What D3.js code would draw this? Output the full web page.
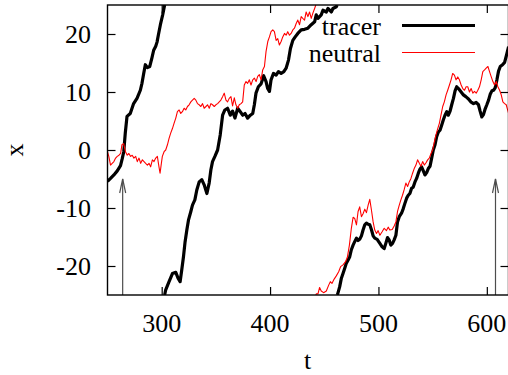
<!DOCTYPE html>
<html>
<head>
<meta charset="utf-8">
<script src="https://cdn.jsdelivr.net/npm/d3@7"></script>
<style>
  html, body { margin: 0; padding: 0; background: #fff; }
  svg { display: block; }
  text { font-family: "Liberation Serif", "Times New Roman", serif; fill: #000; }
</style>
</head>
<body>
<svg id="chart" width="508" height="375"></svg>
<script>
// Positions on a periodic domain of width 50 (x in [-25, 25)), stored unwrapped.
const tracerT = [
  250, 252.8, 255.9, 259, 262, 263.6, 265, 266.4, 268, 271, 274.1, 277.2, 280.3, 281.8, 283.4, 284.9,
  286.8, 289, 291, 292.6, 294.5, 295.7, 297.2, 298.8, 300.9, 303.7, 306.8, 309.9, 313, 315.1, 317,
  318.5, 320.1, 321.6, 323.2, 324.7, 326.9, 328.4, 330.6, 332.4, 334.6, 337, 339.2, 341.7, 343.8,
  345.4, 346.9, 349.1, 351.6, 354, 356.2, 358.3, 360.8, 363.3, 365.4, 367.6, 370.1, 372.5, 374.7,
  376.9, 379.3, 381.8, 384, 385.5, 387, 389.2, 391.7, 394.1, 396.3, 397.8, 399.4, 400.9, 403.1,
  405.6, 407.7, 410.2, 412.7, 414.8, 417, 418.8, 421, 423.2, 425.6, 428.7, 431.8, 434.9, 438,
  441.1, 442.6, 444.2, 447.2, 448.8, 451.9, 453.4, 456.5, 458, 461.1, 462.4, 464.2, 465.8, 467.3,
  468.9, 470.4, 471.9, 473.5, 475, 476.6, 478.1, 479.7, 481.2, 482.7, 484.3, 485.8, 487.4, 488.9,
  490.5, 492, 493.5, 495.1, 496.6, 498.8, 501.3, 503.4, 505.3, 506.8, 508.4, 509.9, 511.4, 513,
  514.5, 516.1, 517.6, 519.2, 521.3, 522.9, 524.4, 526, 527.5, 529, 530.6, 532.1, 533.7, 535.2,
  536.8, 538.3, 539.8, 541.4, 542.9, 544.5, 546, 547.6, 549.1, 550.6, 552.2, 553.7, 555.3, 556.8,
  558.4, 559.9, 561.4, 563, 564.5, 566.1, 567.6, 569.2, 570.7, 572.2, 573.8, 576.3, 578.4, 580.6,
  583.1, 585.2, 587.7, 590.1, 592.3, 593.8, 595.4, 596.9, 598.5, 600, 601.6, 603.1, 604.7, 606.2,
  607.7, 609.3, 610.8, 612.4, 614.5, 616.4, 618.2, 620.1
];
const tracerX = [
  -5.4, -4.9, -4.3, -3.6, -2.7, -1.5, -0.3, 2.9, 5.8, 6.3, 8.0, 8.9, 10.3, 11.5, 13.2, 14.7,
  14.2, 14.4, 15.9, 17.2, 17.9, 18.6, 20.1, 21.6, 23.3, 25.9, 27.3, 28.7, 28.9, 27.9, 27.3,
  29.3, 31.6, 34.2, 36.2, 37.9, 39.4, 40.5, 41.4, 43.1, 44.5, 44.9, 44.0, 42.5, 44.3,
  46.6, 48.0, 48.9, 50, 52.6, 56.0, 56.9, 57.2, 56.0, 56.7, 55.5, 57.2, 56.6, 56.0,
  56.3, 55.5, 56.0, 56.3, 57.8, 59.8, 60.9, 61.4, 62.8, 61.8, 60.6, 60.1, 62.1, 63.2,
  62.9, 63.5, 63.2, 63.5, 64.1, 65.5, 67.5, 68.9, 69.5, 70.1, 70.7, 70.8, 71.0, 71.6,
  72.1, 73.3, 72.7, 73.3, 74.1, 73.8, 74.4, 73.8, 74.4, 74.7, 75.2, 76.4, 77.9, 78.7,
  79.6, 80.5, 81.0, 81.6, 82.8, 83.6, 84.2, 84.8, 84.4, 84.6, 85.2, 86.2, 87.1, 87.4,
  87.2, 87.1, 86.3, 85.2, 84.8, 84.6, 83.9, 83.3, 83.0, 83.9, 84.9, 84.5, 83.6, 83.9,
  84.5, 85.3, 87.6, 88.5, 89.1, 89.9, 90.8, 91.7, 92.2, 92.5, 93.4, 93.6, 94.5, 95.1,
  96.0, 96.7, 97.1, 96.4, 95.7, 96.1, 96.8, 97.2, 98.6, 100, 100.9, 102.3, 103.1, 103.4,
  104.3, 105.2, 106.0, 106.6, 106.0, 106.7, 107.8, 108.9, 110.2, 110.9, 110.6, 110.0, 109.5, 109.2,
  108.8, 108.3, 108.0, 108.2, 107.8, 106.7, 105.7, 106.1, 107.1, 107.8, 108.6, 109.6, 110.2, 110.3,
  110.7, 112.1, 113.6, 114.4, 114.7, 115.1, 116.4, 117.8
];
const neutralT = [
  250, 251.2, 252.8, 254.3, 255.9, 257.5, 259, 260.6, 262.1, 263.3, 264.9, 266.6, 268.2, 269.7,
  271.3, 272.8, 274.4, 276, 277.5, 279.1, 280.6, 282.2, 283.7, 285.2, 286.8, 288.3, 289.8, 291.4,
  292.9, 294.5, 296, 297.5, 298.5, 299.7, 300.6, 302.2, 303.7, 305.3, 306.8, 308.3, 309.9, 311.4,
  313, 314.5, 316.1, 317.6, 319.1, 320.7, 322.2, 323.8, 325.3, 326.9, 328.4, 330, 331.5, 333,
  334.6, 336.1, 337.7, 339.2, 340.8, 342.3, 343.9, 345.4, 346.9, 348.5, 350, 351.6, 353.1, 354.6,
  356.2, 357.7, 359.3, 360.8, 362.3, 363.9, 365.4, 367, 368.5, 370.1, 371.6, 373.2, 374.7, 376.2,
  377.8, 379.3, 380.9, 382.4, 384, 385.5, 387.1, 388.6, 390.1, 391.7, 393.2, 394.8, 396.3, 397.9,
  399.4, 400.9, 402.5, 404, 405.6, 407.1, 408.6, 410.2, 411.7, 413.3, 414.8, 416.3, 417.9, 419.4,
  421, 422.5, 424.1, 425.6, 427.2, 428.7, 430.2, 431.8, 433.3, 434.9, 436.4, 438, 439.5, 441.1,
  442.6, 444.2, 445.7, 447.2, 449.4, 451.9, 454.1, 455.6, 457.1, 459, 461.1, 463.3, 465.1, 467.3,
  469.5, 471.3, 473.2, 475, 476.6, 478.1, 479.7, 481.2, 482.7, 484.3, 485.8, 487.4, 488.9, 490.5,
  492, 493.5, 495.1, 496.6, 498.2, 499.7, 501.3, 503.4, 505.3, 507.4, 509, 510.5, 512.7, 514.5,
  516.1, 517.6, 519.2, 520.7, 522.2, 523.8, 525.3, 526.9, 528.4, 530, 531.5, 533, 534.6, 536.1,
  537.7, 539.2, 540.8, 542.3, 543.9, 545.4, 546.9, 548.5, 550, 551.6, 553.1, 554.7, 556.2, 557.7,
  559.3, 560.8, 562.4, 563.9, 565.5, 567, 568.5, 570.1, 571.6, 573.2, 574.7, 576.3, 577.8, 579.4,
  580.9, 582.4, 584, 585.5, 587.1, 588.6, 590.2, 591.7, 593.2, 594.8, 596.3, 597.9, 599.4, 601,
  602.5, 604.1, 605.6, 607.1, 608.7, 610.2, 611.8, 613.3, 614.8, 616.4, 617.9, 620.1
];
const neutralX = [
  -0.3, -1.1, -2.6, -2.3, -2.0, -1.4, -1.1, -0.9, -0.6, 0.9, 1.1, -0.3, -0.9, -0.6,
  -1.1, -0.9, -1.4, -1.1, -2.0, -1.4, -2.3, -1.7, -2.0, -2.3, -2.6, -2.3, -2.9, -1.7,
  -2.0, -1.4, -1.1, -2.9, -4.0, -2.3, -1.1, -0.3, 0, 0.9, 2.0, 2.9, 3.7, 4.6,
  5.5, 6.6, 6.9, 6.3, 6.6, 7.2, 6.9, 7.5, 7.8, 8.3, 8.6, 8.9, 8.6, 8.0,
  7.8, 7.5, 8.0, 7.2, 7.5, 7.8, 7.2, 8.0, 7.8, 7.5, 7.8, 8.0, 8.3, 8.6,
  9.2, 9.8, 8.6, 8.3, 8.9, 9.2, 7.6, 9.0, 7.8, 7.2, 7.8, 8.0, 8.3, 11.2,
  11.8, 11.5, 12.1, 11.2, 12.1, 12.4, 11.8, 12.7, 13.0, 12.1, 13.8, 14.4, 17.0, 18.7,
  19.5, 20.4, 20.7, 20.4, 18.9, 19.2, 18.1, 18.7, 19.5, 20.1, 19.8, 20.4, 19.8, 20.1,
  20.7, 21.0, 21.8, 22.4, 21.6, 23.0, 22.7, 22.4, 23.8, 23.0, 23.8, 22.7, 23.6, 24.4,
  25.2, 25.2, 26.3, 25.7, 25.4, 25.7, 26.7, 27.3, 27.0, 27.7, 28.3, 29.0, 29.9, 30.2,
  30.7, 31.5, 33.6, 36.5, 38.4, 38.2, 37.1, 39.4, 40.2, 38.5, 39.0, 39.8, 39.2, 40.5,
  41.5, 39.7, 37.6, 36.2, 35.6, 36.1, 35.3, 35.9, 36.5, 36.1, 36.7, 36.2, 36.3, 36.9,
  37.6, 39.4, 40.5, 41.4, 42.2, 43.2, 44.3, 43.7, 44.5, 45.1, 46.0, 46.8, 47.4, 48.3,
  47.7, 47.2, 48.0, 47.4, 47.8, 48.3, 48.6, 49.4, 50, 51.4, 52.6, 53.7, 54.6, 56.0,
  57.5, 58.3, 59.5, 60.3, 61.2, 62.1, 63.2, 62.9, 62.1, 62.6, 62.1, 61.2, 60.6, 60.3,
  60.9, 60.9, 60.0, 60.6, 59.8, 60.1, 59.8, 60.3, 60.9, 62.1, 63.5, 63.8, 64.1, 64.4,
  63.5, 62.6, 61.8, 61.2, 61.8, 60.9, 60.3, 59.5, 58.3, 58.0, 57.8, 56.3
];

const seriesNames = ["tracer", "neutral"];
const xTicks = [300, 400, 500, 600];
const yTicks = [-20, -10, 0, 10, 20];
const arrowT = [264, 608];
const arrowTipX = -5;

const tDomain = [250, 620];
const xDomain = [-25, 25];
const period = 50;

const svg = d3.select("#chart");
const plot = { left: 107.5, right: 508.5, top: 5, bottom: 295 };

const tScale = d3.scaleLinear().domain(tDomain).range([plot.left, plot.right]);
const xScale = d3.scaleLinear().domain(xDomain).range([plot.bottom, plot.top]);

// Split an unwrapped trajectory into pieces inside [-25, 25), adding the
// boundary crossing points so each piece meets the frame edge.
function wrapSegments(ts, xs) {
  const lo = xDomain[0];
  const cell = v => Math.floor((v - lo) / period);
  const segs = [];
  let cur = [];
  for (let i = 0; i < ts.length; i++) {
    const k = cell(xs[i]);
    if (i > 0) {
      const kp = cell(xs[i - 1]);
      if (k !== kp) {
        const dir = k > kp ? 1 : -1;
        for (let c = kp; c !== k; c += dir) {
          const b = lo + period * (dir > 0 ? c + 1 : c);
          const f = (b - xs[i - 1]) / (xs[i] - xs[i - 1]);
          const tc = ts[i - 1] + f * (ts[i] - ts[i - 1]);
          cur.push([tc, b - period * c]);
          segs.push(cur);
          cur = [[tc, b - period * (c + dir)]];
        }
      }
    }
    cur.push([ts[i], xs[i] - period * k]);
  }
  segs.push(cur);
  return segs;
}

svg.append("defs").append("clipPath").attr("id", "plotclip")
  .append("rect")
  .attr("x", plot.left).attr("y", plot.top)
  .attr("width", plot.right - plot.left).attr("height", plot.bottom - plot.top);

const line = d3.line().x(d => tScale(d[0])).y(d => xScale(d[1]));

// Axes with inward ticks on all four sides
const tickLen = 8;
const axisG = svg.append("g").attr("class", "axes");
const bottomAxis = d3.axisBottom(tScale).tickValues(xTicks).tickSize(-tickLen).tickFormat("");
const topAxis = d3.axisTop(tScale).tickValues(xTicks).tickSize(-tickLen).tickFormat("");
const leftAxis = d3.axisLeft(xScale).tickValues(yTicks).tickSize(-tickLen).tickFormat("");
const rightAxis = d3.axisRight(xScale).tickValues(yTicks).tickSize(-tickLen).tickFormat("");
axisG.append("g").attr("transform", `translate(0,${plot.bottom})`).call(bottomAxis);
axisG.append("g").attr("transform", `translate(0,${plot.top})`).call(topAxis);
axisG.append("g").attr("transform", `translate(${plot.left},0)`).call(leftAxis);
axisG.append("g").attr("transform", `translate(${plot.right},0)`).call(rightAxis);
axisG.selectAll(".domain").remove();
axisG.selectAll(".tick line").attr("stroke", "#000").attr("stroke-width", 1.2);

// Tick labels
const fontSize = 26;
svg.append("g").selectAll("text").data(xTicks).join("text")
  .attr("x", d => tScale(d)).attr("y", 332)
  .attr("text-anchor", "middle").attr("font-size", fontSize)
  .text(d => d);
svg.append("g").selectAll("text").data(yTicks).join("text")
  .attr("x", 91).attr("y", d => xScale(d))
  .attr("dy", "0.34em")
  .attr("text-anchor", "end").attr("font-size", fontSize)
  .text(d => d);

// Axis titles
svg.append("text")
  .attr("x", (plot.left + plot.right) / 2 - 0.5).attr("y", 369)
  .attr("text-anchor", "middle").attr("font-size", fontSize)
  .text("t");
svg.append("text")
  .attr("transform", "translate(15,150) rotate(-90)")
  .attr("text-anchor", "middle").attr("dy", "0.3em").attr("font-size", fontSize)
  .text("x");

// Trajectories
const series = [
  { name: seriesNames[0], t: tracerT, x: tracerX, color: "#000000", width: 3.2 },
  { name: seriesNames[1], t: neutralT, x: neutralX, color: "#ff0000", width: 1.1 }
];
const dataG = svg.append("g").attr("clip-path", "url(#plotclip)");
series.forEach(s => {
  dataG.append("g").selectAll("path").data(wrapSegments(s.t, s.x)).join("path")
    .attr("d", line)
    .attr("fill", "none")
    .attr("stroke", s.color)
    .attr("stroke-width", s.width)
    .attr("stroke-linejoin", "round");
});

// Arrows marking the two times
const arrowG = svg.append("g").attr("stroke", "#4d4d4d").attr("stroke-width", 1.2).attr("fill", "none");
arrowT.forEach(t => {
  const ax = tScale(t), y0 = xScale(xDomain[0]), y1 = xScale(arrowTipX);
  arrowG.append("line").attr("x1", ax).attr("x2", ax).attr("y1", y0).attr("y2", y1);
  arrowG.append("path").attr("d", `M${ax - 3},${y1 + 14} L${ax},${y1} L${ax + 3},${y1 + 14}`);
});

// Legend
const legend = svg.append("g");
series.forEach((s, i) => {
  const ly = 25.5 + i * 27;
  legend.append("text")
    .attr("x", 381).attr("y", ly + 9.5)
    .attr("text-anchor", "end").attr("font-size", fontSize)
    .text(s.name);
  legend.append("line")
    .attr("x1", 402).attr("x2", 475).attr("y1", ly).attr("y2", ly)
    .attr("stroke", s.color).attr("stroke-width", s.width);
});

// Frame
svg.append("rect")
  .attr("x", plot.left).attr("y", plot.top)
  .attr("width", plot.right - plot.left).attr("height", plot.bottom - plot.top)
  .attr("fill", "none").attr("stroke", "#000").attr("stroke-width", 1.4);
</script>
</body>
</html>
